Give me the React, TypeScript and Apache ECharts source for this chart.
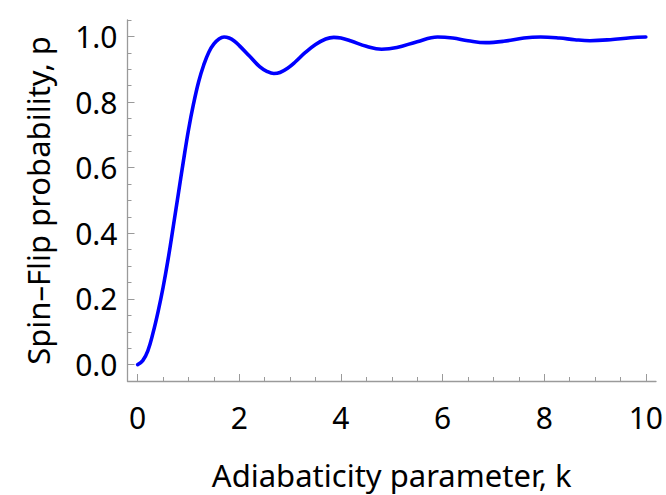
import React, { useEffect, useRef } from "react";
import * as echarts from "echarts";

const kValues = [0, 0.1, 0.2, 0.3, 0.4, 0.5, 0.6, 0.7, 0.8, 0.9, 1.0, 1.1, 1.2, 1.3, 1.4, 1.5, 1.6, 1.7, 1.8, 1.9, 2.0, 2.2, 2.4, 2.55, 2.68, 2.8, 2.95, 3.1, 3.3, 3.5, 3.7, 3.86, 4.0, 4.2, 4.5, 4.8, 5.1, 5.5, 5.9, 6.2, 6.5, 6.85, 7.2, 7.6, 7.93, 8.3, 8.6, 8.9, 9.3, 9.7, 10];
const pValues = [0, 0.012, 0.042, 0.095, 0.16, 0.235, 0.322, 0.42, 0.52, 0.62, 0.715, 0.795, 0.862, 0.913, 0.952, 0.977, 0.992, 0.998, 0.995, 0.986, 0.972, 0.94, 0.908, 0.893, 0.887, 0.89, 0.903, 0.922, 0.951, 0.975, 0.992, 0.997, 0.995, 0.986, 0.97, 0.961, 0.966, 0.984, 0.998, 0.995, 0.987, 0.981, 0.985, 0.995, 0.998, 0.995, 0.99, 0.987, 0.99, 0.996, 0.998];

const xMajorTicks = [0, 2, 4, 6, 8, 10];
const xMinorTicks = [0.5, 1, 1.5, 2.5, 3, 3.5, 4.5, 5, 5.5, 6.5, 7, 7.5, 8.5, 9, 9.5];
const yMajorTicks = [0, 0.2, 0.4, 0.6, 0.8, 1.0];
const yMinorTicks = [-0.05, 0.05, 0.1, 0.15, 0.25, 0.3, 0.35, 0.45, 0.5, 0.55, 0.65, 0.7, 0.75, 0.85, 0.9, 0.95, 1.05];

const xTitle = "Adiabaticity parameter, k";
const yTitle = "Spin\u2013Flip probability, p";

const FONT = "Noto Sans";
const AXIS_COLOR = "#9a9a9a";

export default function App() {
  const ref = useRef<HTMLDivElement>(null);
  useEffect(() => {
    if (!ref.current) return;
    const chart = echarts.init(ref.current, null, { renderer: "svg" });
    const data = kValues.map((k, i) => [k, pValues[i]]);
    const xRange = { min: -0.2, max: 10.2 };
    const yRange = { min: -0.05, max: 1.05 };
    chart.setOption({
      animation: false,
      backgroundColor: "#ffffff",
      grid: { left: 127.5, right: 6.6, top: 20, bottom: 106, containLabel: false },
      xAxis: [
        {
          type: "value",
          ...xRange,
          axisLine: { show: true, onZero: false, lineStyle: { color: AXIS_COLOR, width: 1.3 } },
          axisTick: { show: true, inside: true, length: 7, customValues: xMajorTicks, lineStyle: { color: AXIS_COLOR, width: 1 } },
          axisLabel: {
            show: true,
            customValues: xMajorTicks,
            margin: 21,
            color: "#000",
            fontFamily: FONT,
            fontSize: 30,
            formatter: (v: number) => String(v),
          },
          splitLine: { show: false },
          name: xTitle,
          nameLocation: "middle",
          nameGap: 78,
          nameTextStyle: { color: "#000", fontFamily: FONT, fontSize: 31 },
        },
        {
          type: "value",
          ...xRange,
          position: "bottom",
          axisLine: { show: false, onZero: false },
          axisTick: { show: true, inside: true, length: 4, customValues: xMinorTicks, lineStyle: { color: AXIS_COLOR, width: 1 } },
          axisLabel: { show: false },
          splitLine: { show: false },
        },
      ],
      yAxis: [
        {
          type: "value",
          ...yRange,
          axisLine: { show: true, onZero: false, lineStyle: { color: AXIS_COLOR, width: 1.3 } },
          axisTick: { show: true, inside: true, length: 7, customValues: yMajorTicks, lineStyle: { color: AXIS_COLOR, width: 1 } },
          axisLabel: {
            show: true,
            customValues: yMajorTicks,
            margin: 10,
            color: "#000",
            fontFamily: FONT,
            fontSize: 30,
            formatter: (v: number) => v.toFixed(1),
          },
          splitLine: { show: false },
          name: yTitle,
          nameLocation: "middle",
          nameRotate: 90,
          nameGap: 74,
          nameTextStyle: { color: "#000", fontFamily: FONT, fontSize: 31 },
        },
        {
          type: "value",
          ...yRange,
          position: "left",
          axisLine: { show: false, onZero: false },
          axisTick: { show: true, inside: true, length: 4, customValues: yMinorTicks, lineStyle: { color: AXIS_COLOR, width: 1 } },
          axisLabel: { show: false },
          splitLine: { show: false },
        },
      ],
      series: [
        {
          type: "line",
          data,
          xAxisIndex: 0,
          yAxisIndex: 0,
          smooth: 0.4,
          showSymbol: false,
          symbol: "none",
          lineStyle: { color: "#0000ff", width: 3.6, cap: "round", join: "round" },
        },
      ],
    });
    return () => chart.dispose();
  }, []);
  return <div ref={ref} style={{ position: "fixed", left: 0, top: 0, width: 666, height: 495 }} />;
}
